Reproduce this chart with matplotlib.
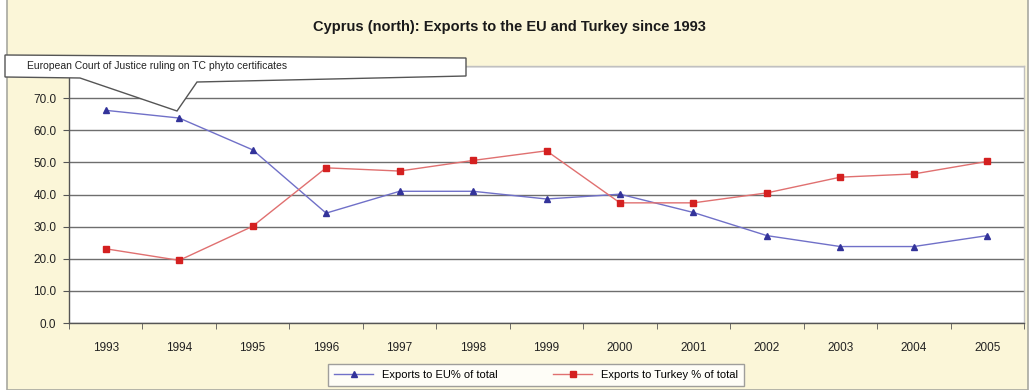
import numpy as np
import matplotlib.pyplot as plt
from matplotlib.patches import Rectangle, Polygon

plt.rcParams['font.family'] = ['Liberation Sans', 'DejaVu Sans']

# %% Daten
years = ["1993", "1994", "1995", "1996", "1997", "1998", "1999",
         "2000", "2001", "2002", "2003", "2004", "2005"]
exports_eu = [66.2, 63.8, 53.9, 34.2, 41.0, 41.0, 38.6,
              40.1, 34.4, 27.2, 23.8, 23.8, 27.2]
exports_turkey = [23.1, 19.5, 30.1, 48.3, 47.3, 50.6, 53.6,
                  37.4, 37.4, 40.5, 45.4, 46.4, 50.3]
y_ticks = [0, 10, 20, 30, 40, 50, 60, 70, 80]

W, H = 1031, 390
fig = plt.figure(figsize=(W / 100, H / 100), dpi=100)
fig.patch.set_facecolor("white")

# Rahmen des Diagrammbereichs
frame = Rectangle((7 / W, 0), (1028 - 7) / W, (H - 5) / H + 0.02,
                  transform=fig.transFigure, facecolor="#fbf6d8",
                  edgecolor="#a8a8a0", lw=1.2, zorder=-5)
fig.patches.append(frame)

fig.text(509 / W, 1 - 27 / H,
         "Cyprus (north): Exports to the EU and Turkey since 1993",
         ha="center", va="center", fontsize=10.5, fontweight="bold",
         color="#1a1a1a")

# %% Plot
ax = fig.add_axes([69 / W, 1 - 323 / H, (1024 - 69) / W, (323 - 66) / H])
ax.set_facecolor("white")
x = np.arange(len(years))

ax.plot(x, exports_eu, color="#7070c8", lw=1.0, marker="^", ms=5,
        mfc="#33339a", mec="#33339a", label="Exports to EU% of total",
        zorder=3)
ax.plot(x, exports_turkey, color="#e07070", lw=1.0, marker="s", ms=4,
        mfc="#d42020", mec="#d42020", label="Exports to Turkey % of total",
        zorder=3)

ax.set_xlim(-0.5, len(years) - 0.5)
ax.set_ylim(0, 80)
ax.set_yticks(y_ticks)
# 80.0 liegt unter der Legendenblase
ax.set_yticklabels([f"{v:.1f}" if v < 80 else "" for v in y_ticks],
                   fontsize=8.5, color="#222222")
ax.set_xticks(x)
ax.set_xticklabels(years, fontsize=8.5, color="#222222")
ax.set_xticks(np.arange(-0.5, len(years), 1.0), minor=True)
ax.tick_params(axis="x", which="major", length=0, pad=14)
ax.tick_params(axis="x", which="minor", length=4, direction="out",
               color="#555555")
ax.tick_params(axis="y", length=4, direction="out", color="#555555", pad=5)

ax.yaxis.grid(True, color="#6e6e6e", lw=1.0)
ax.set_axisbelow(True)
for side in ["left", "bottom"]:
    ax.spines[side].set_color("#555555")
    ax.spines[side].set_linewidth(1.0)
for side in ["top", "right"]:
    ax.spines[side].set_color("#c0c0c0")
    ax.spines[side].set_linewidth(1.0)

leg = ax.legend(loc="center", bbox_to_anchor=(536 / W, 1 - 375 / H),
                bbox_transform=fig.transFigure, ncol=2, fontsize=8,
                frameon=True, fancybox=False, handlelength=3.5,
                columnspacing=5.0, borderpad=0.55, handletextpad=0.8)
leg.get_frame().set_edgecolor("#888888")
leg.get_frame().set_linewidth(1.0)

# Hinweis auf das EuGH-Urteil (Legendenblase)
callout_px = [(5, 55), (466, 58), (466, 76), (197, 82), (177, 111),
              (80, 78), (5, 77)]
callout = Polygon([(px / W, 1 - py / H) for px, py in callout_px],
                  closed=True, transform=fig.transFigure,
                  facecolor="white", edgecolor="#555555", lw=1.0, zorder=10)
fig.patches.append(callout)
fig.text(27 / W, 1 - 66 / H,
         "European Court of Justice ruling on TC phyto certificates",
         ha="left", va="center", fontsize=7.5, color="#222222", zorder=11)

fig.savefig("out.png", dpi=100)
